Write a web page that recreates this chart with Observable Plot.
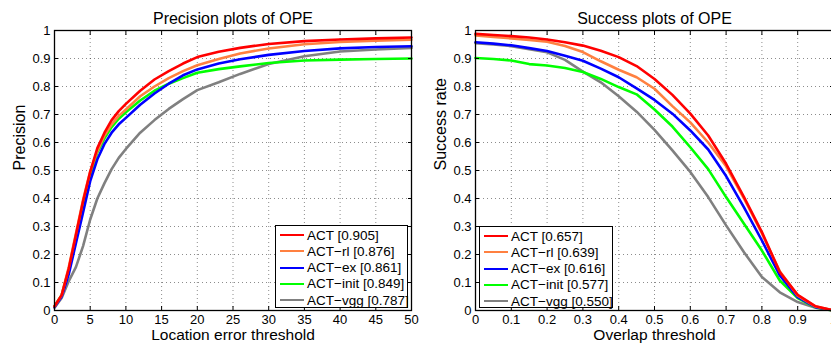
<!DOCTYPE html>
<html>
<head>
<meta charset="utf-8">
<script src="https://cdn.jsdelivr.net/npm/d3@7"></script>
<script src="https://cdn.jsdelivr.net/npm/@observablehq/plot@0.6"></script>
<style>
  html, body { margin: 0; padding: 0; background: #fff; overflow: hidden; }
  #wrap { position: relative; width: 831px; height: 350px; overflow: hidden; background: #fff;
          font-family: "Liberation Sans", Arial, Helvetica, sans-serif; }
  #wrap svg { position: absolute; top: 0; max-width: none; }
  .legend { position: absolute; background: #fff; border: 1.3px solid #000; box-sizing: border-box;
            font-size: 13.5px; color: #000; }
  .legend .row { position: absolute; left: 0; height: 16px; display: flex; align-items: center; white-space: nowrap; }
  .legend .sw { width: 24px; height: 0; border-top: 2.6px solid; margin-left: 4px; margin-right: 3px; }
</style>
</head>
<body>
<div id="wrap"></div>
<script>
// ---------- data ----------
const methods = ["ACT", "ACT\u2212rl", "ACT\u2212ex", "ACT\u2212init", "ACT\u2212vgg"];
const colors  = ["#ff0000", "#ff8040", "#0000ff", "#00ff00", "#808080"];
const precisionScores = ["0.905", "0.876", "0.861", "0.849", "0.787"];
const successScores   = ["0.657", "0.639", "0.616", "0.577", "0.550"];

// Precision plot: location error thresholds (pixels)
const precX = [0,1,2,3,4,5,6,7,8,9,10,12,14,16,18,20,23,26,30,35,40,45,50];
const precACT  = [0.015,0.055,0.150,0.270,0.390,0.495,0.580,0.635,0.680,0.712,0.738,0.785,0.825,0.855,0.882,0.905,0.924,0.938,0.952,0.962,0.968,0.972,0.975];
const precRL   = [0.015,0.055,0.155,0.275,0.395,0.497,0.570,0.625,0.665,0.695,0.718,0.765,0.800,0.830,0.855,0.876,0.898,0.918,0.936,0.951,0.959,0.964,0.967];
const precEX   = [0.012,0.050,0.130,0.240,0.350,0.462,0.540,0.595,0.635,0.665,0.688,0.735,0.775,0.810,0.840,0.861,0.882,0.897,0.913,0.927,0.936,0.941,0.944];
const precINIT = [0.015,0.055,0.145,0.260,0.375,0.485,0.565,0.615,0.655,0.685,0.708,0.750,0.785,0.810,0.830,0.849,0.862,0.872,0.884,0.893,0.896,0.898,0.900];
const precVGG  = [0.010,0.045,0.105,0.155,0.230,0.325,0.400,0.455,0.505,0.545,0.577,0.635,0.680,0.720,0.755,0.787,0.815,0.845,0.880,0.908,0.925,0.932,0.938];

// Success plot: overlap thresholds
const succX = [0,0.05,0.1,0.15,0.2,0.25,0.3,0.35,0.4,0.45,0.5,0.55,0.6,0.65,0.7,0.75,0.8,0.85,0.9,0.95,1];
const succACT  = [0.988,0.984,0.980,0.975,0.968,0.958,0.946,0.928,0.905,0.873,0.827,0.770,0.703,0.625,0.524,0.405,0.280,0.137,0.056,0.015,0];
const succRL   = [0.982,0.977,0.972,0.966,0.960,0.945,0.923,0.890,0.860,0.833,0.792,0.730,0.672,0.600,0.515,0.400,0.275,0.140,0.053,0.014,0];
const succEX   = [0.958,0.953,0.947,0.937,0.927,0.910,0.892,0.864,0.833,0.793,0.752,0.703,0.643,0.575,0.480,0.368,0.250,0.125,0.048,0.012,0];
const succINIT = [0.902,0.898,0.893,0.880,0.875,0.866,0.852,0.827,0.798,0.772,0.718,0.657,0.583,0.505,0.405,0.310,0.214,0.107,0.044,0.011,0];
const succVGG  = [0.955,0.950,0.944,0.933,0.922,0.895,0.853,0.815,0.765,0.710,0.645,0.572,0.495,0.405,0.304,0.208,0.120,0.065,0.030,0.010,0];

// tick values
const precXTicks = [0,5,10,15,20,25,30,35,40,45,50];
const succXTicks = [0,0.1,0.2,0.3,0.4,0.5,0.6,0.7,0.8,0.9,1];
const yTicks     = [0,0.1,0.2,0.3,0.4,0.5,0.6,0.7,0.8,0.9,1];

// ---------- build ----------
const fmt = d => String(+d.toFixed(2));
function toRows(xs, series) {
  const rows = [];
  series.forEach((ys, i) => ys.forEach((y, j) => rows.push({x: xs[j], y, k: i})));
  return rows;
}
const precRows = toRows(precX, [precACT, precRL, precEX, precINIT, precVGG]);
const succRows = toRows(succX, [succACT, succRL, succEX, succINIT, succVGG]);

function panel({width, marginLeft, marginRight, xDomain, xTicks, rows, title, xLabel, yLabel}) {
  const order = [4, 3, 2, 1, 0];
  return Plot.plot({
    width, height: 350,
    marginLeft, marginRight, marginTop: 30, marginBottom: 40,
    style: {fontFamily: '"Liberation Sans", Arial, Helvetica, sans-serif', fontSize: "13px", color: "#000", background: "transparent", overflow: "visible"},
    x: {domain: xDomain},
    y: {domain: [0, 1]},
    marks: [
      Plot.gridX(xTicks, {stroke: "#000", strokeOpacity: 0.45, strokeDasharray: "1,3"}),
      Plot.gridY(yTicks, {stroke: "#000", strokeOpacity: 0.45, strokeDasharray: "1,3"}),
      ...order.map(k => Plot.line(rows.filter(d => d.k === k), {x: "x", y: "y", stroke: colors[k], strokeWidth: 2.6})),
      Plot.axisX(xTicks, {anchor: "bottom", tickSize: -4, text: null, label: null}),
      Plot.axisX(xTicks, {anchor: "top", tickSize: -4, text: null, label: null}),
      Plot.axisY(yTicks, {anchor: "left", tickSize: -4, text: null, label: null}),
      Plot.axisY(yTicks, {anchor: "right", tickSize: -4, text: null, label: null}),
      Plot.axisX(xTicks, {anchor: "bottom", tickSize: 0, tickPadding: 4, tickFormat: fmt, label: null, fontSize: 13}),
      Plot.axisY(yTicks, {anchor: "left", tickSize: 0, tickPadding: 4, tickFormat: fmt, label: null, fontSize: 13}),
      Plot.frame({stroke: "#000", strokeWidth: 1.3}),
      Plot.text([title], {frameAnchor: "top", dy: -17.5, fontSize: 16, text: d => d}),
      Plot.text([xLabel], {frameAnchor: "bottom", dy: 29, fontSize: 15.5, text: d => d}),
      Plot.text([yLabel], {frameAnchor: "left", dx: -35, rotate: -90, fontSize: 16, text: d => d})
    ]
  });
}

const wrap = document.getElementById("wrap");
const left = panel({width: 420, marginLeft: 54, marginRight: 9, xDomain: [0, 50], xTicks: precXTicks,
  rows: precRows, title: "Precision plots of OPE", xLabel: "Location error threshold", yLabel: "Precision"});
left.style.left = "0px";
const right = panel({width: 422, marginLeft: 64, marginRight: 0, xDomain: [0, 1], xTicks: succXTicks,
  rows: succRows, title: "Success plots of OPE", xLabel: "Overlap threshold", yLabel: "Success rate"});
right.style.left = "411px";
wrap.appendChild(left);
wrap.appendChild(right);

function legend(x, y, w, h, scores) {
  const box = document.createElement("div");
  box.className = "legend";
  Object.assign(box.style, {left: x + "px", top: y + "px", width: w + "px", height: h + "px"});
  methods.forEach((m, i) => {
    const row = document.createElement("div");
    row.className = "row";
    row.style.top = (1 + i * 16.3) + "px";
    const sw = document.createElement("div");
    sw.className = "sw";
    sw.style.borderTopColor = colors[i];
    const t = document.createElement("span");
    t.textContent = `${m} [${scores[i]}]`;
    row.appendChild(sw); row.appendChild(t);
    box.appendChild(row);
  });
  wrap.appendChild(box);
}
legend(275, 225, 133, 83, precisionScores);
legend(479, 226, 134, 82, successScores);
</script>
</body>
</html>
